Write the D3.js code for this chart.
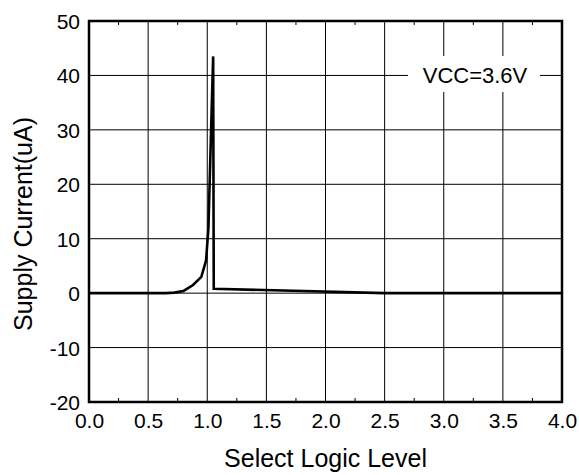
<!DOCTYPE html>
<html>
<head>
<meta charset="utf-8">
<script src="https://cdn.jsdelivr.net/npm/d3@7"></script>
<style>
  body { margin: 0; background: #fff; }
  text { font-family: "Liberation Sans", Arial, sans-serif; fill: #000; }
</style>
</head>
<body>
<svg id="chart" width="579" height="475"></svg>
<script>
// curve
const level = [0.0, 0.65, 0.72, 0.80, 0.88, 0.95, 0.99, 1.01, 1.03, 1.05, 1.055, 2.5, 4.0];
const current = [0, 0, 0.1, 0.4, 1.5, 3.0, 6.0, 12, 28, 43.5, 0.8, 0, 0];

const x_ticks = [0, 0.5, 1, 1.5, 2, 2.5, 3, 3.5, 4];
const x_minor = [0.25, 0.75, 1.25, 1.75, 2.25, 2.75, 3.25, 3.75];
const y_ticks = [-20, -10, 0, 10, 20, 30, 40, 50];
const legend_label = 'VCC=3.6V';

const svg = d3.select('#chart');
const m_left = 89, m_right = 562, m_top = 21, m_bottom = 402;

const x = d3.scaleLinear().domain([0, 4]).range([m_left, m_right]);
const y = d3.scaleLinear().domain([-20, 50]).range([m_bottom, m_top]);

// grid
const grid = svg.append('g');
grid.selectAll('line.vx').data(x_ticks.slice(1, -1)).enter().append('line')
  .attr('x1', d => x(d)).attr('x2', d => x(d))
  .attr('y1', m_top).attr('y2', m_bottom)
  .attr('stroke', '#000').attr('stroke-width', 1);
grid.selectAll('line.hy').data(y_ticks.slice(1, -1)).enter().append('line')
  .attr('x1', m_left).attr('x2', m_right)
  .attr('y1', d => y(d)).attr('y2', d => y(d))
  .attr('stroke', '#000').attr('stroke-width', 1);

// minor ticks on top and bottom edges
const minor = svg.append('g');
x_minor.forEach(function(v) {
  minor.append('line').attr('x1', x(v)).attr('x2', x(v))
    .attr('y1', m_top).attr('y2', m_top + 4).attr('stroke', '#000');
  minor.append('line').attr('x1', x(v)).attr('x2', x(v))
    .attr('y1', m_bottom - 4).attr('y2', m_bottom).attr('stroke', '#000');
});

// legend label sits on a white patch over the grid
const lx = 475, ly = y(40);
svg.append('rect').attr('x', 408).attr('y', 56)
  .attr('width', 132).attr('height', 36).attr('fill', '#fff');
svg.append('text').attr('x', lx).attr('y', ly + 8)
  .attr('text-anchor', 'middle').attr('font-size', 22).text(legend_label);

// curve
const pts = level.map((v, i) => [v, current[i]]);
svg.append('path').datum(pts)
  .attr('d', d3.line().x(d => x(d[0])).y(d => y(d[1])))
  .attr('fill', 'none').attr('stroke', '#000').attr('stroke-width', 2.6)
  .attr('stroke-linejoin', 'miter');

// frame
svg.append('rect').attr('x', m_left).attr('y', m_top)
  .attr('width', m_right - m_left).attr('height', m_bottom - m_top)
  .attr('fill', 'none').attr('stroke', '#000').attr('stroke-width', 2.5);

// axes (labels only)
const xAxis = svg.append('g').attr('transform', 'translate(0,' + m_bottom + ')')
  .call(d3.axisBottom(x).tickValues(x_ticks).tickFormat(d3.format('.1f')).tickSize(0).tickPadding(11));
const yAxis = svg.append('g').attr('transform', 'translate(' + m_left + ',0)')
  .call(d3.axisLeft(y).tickValues(y_ticks).tickSize(0).tickPadding(9));
[xAxis, yAxis].forEach(function(a) {
  a.select('.domain').remove();
  a.selectAll('text').attr('font-size', 21)
    .attr('font-family', '"Liberation Sans", Arial, sans-serif').attr('fill', '#000');
});
yAxis.selectAll('text').attr('dy', '0.36em').text(d => String(d).replace('\u2212', '-'));

svg.append('text').attr('x', (m_left + m_right) / 2).attr('y', 467)
  .attr('text-anchor', 'middle').attr('font-size', 25).text('Select Logic Level');
svg.append('text').attr('transform', 'translate(32,' + 224 + ') rotate(-90)')
  .attr('text-anchor', 'middle').attr('font-size', 25).text('Supply Current(uA)');
</script>
</body>
</html>
